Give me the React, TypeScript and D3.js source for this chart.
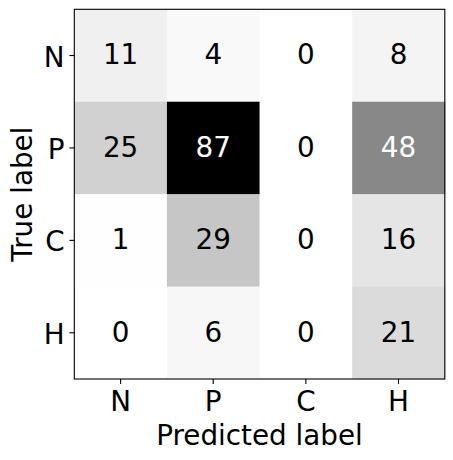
import React from "react";
import * as d3 from "d3";

const labels = ["N", "P", "C", "H"];
const matrix = [
  [11, 4, 0, 8],
  [25, 87, 0, 48],
  [1, 29, 0, 16],
  [0, 6, 0, 21],
];
const greysStops = ["#ffffff", "#f0f0f0", "#d9d9d9", "#bdbdbd", "#969696", "#737373", "#525252", "#252525", "#000000"];

export default function App() {
  const W = 453, H = 460;
  const left = 74.3, top = 9.3, right = 444.8, bottom = 379;
  const fs = 27.8;
  const x = d3.scaleBand().domain(labels).range([left, right]).padding(0);
  const y = d3.scaleBand().domain(labels).range([top, bottom]).padding(0);
  const all = matrix.flat();
  const vmin = d3.min(all)!, vmax = d3.max(all)!;
  const color = d3
    .scaleLinear<string>()
    .domain(greysStops.map((_, i) => vmin + (i / (greysStops.length - 1)) * (vmax - vmin)))
    .range(greysStops)
    .interpolate(d3.interpolateRgb);
  const thresh = (vmax + vmin) / 2;
  const font = "DejaVu Sans, sans-serif";
  return (
    <svg width={W} height={H} style={{ position: "absolute", left: 0, top: 0 }} fontFamily={font}>
      <rect width={W} height={H} fill="#fff" />
      {matrix.map((row, i) =>
        row.map((v, j) => (
          <g key={`${i}-${j}`}>
            <rect x={x(labels[j])} y={y(labels[i])} width={x.bandwidth() + 0.5} height={y.bandwidth() + 0.5} fill={color(v)} />
            <text
              x={x(labels[j])! + x.bandwidth() / 2}
              y={y(labels[i])! + y.bandwidth() / 2 + 8.8}
              textAnchor="middle"
              fontSize={fs}
              fill={v > thresh ? "#fff" : "#000"}
            >
              {v}
            </text>
          </g>
        ))
      )}
      <rect x={left} y={top} width={right - left} height={bottom - top} fill="none" stroke="#000" strokeWidth={1.1} />
      {labels.map((l) => {
        const cx = x(l)! + x.bandwidth() / 2;
        return (
          <g key={"x" + l}>
            <line x1={cx} x2={cx} y1={bottom} y2={bottom + 4.9} stroke="#000" strokeWidth={1.1} />
            <text x={cx} y={411} textAnchor="middle" fontSize={fs}>
              {l}
            </text>
          </g>
        );
      })}
      {labels.map((l) => {
        const cy = y(l)! + y.bandwidth() / 2;
        return (
          <g key={"y" + l}>
            <line x1={left - 4.9} x2={left} y1={cy} y2={cy} stroke="#000" strokeWidth={1.1} />
            <text x={left - 9.7} y={cy + 11} textAnchor="end" fontSize={fs}>
              {l}
            </text>
          </g>
        );
      })}
      <text x={(left + right) / 2} y={445} textAnchor="middle" fontSize={fs}>
        Predicted label
      </text>
      <text transform={`translate(31.7,${(top + bottom) / 2}) rotate(-90)`} textAnchor="middle" fontSize={fs}>
        True label
      </text>
    </svg>
  );
}
